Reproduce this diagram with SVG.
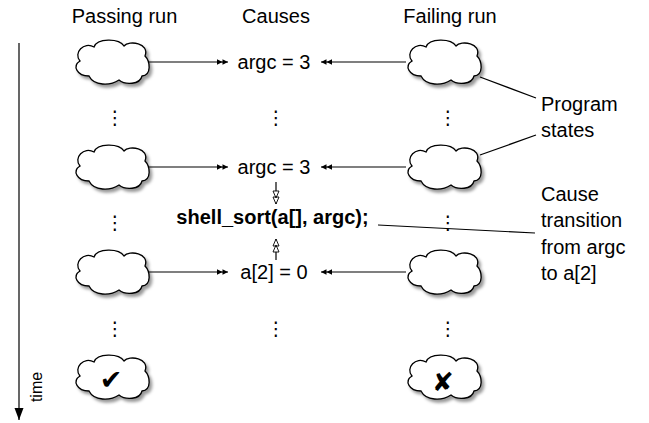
<svg xmlns="http://www.w3.org/2000/svg" width="649" height="423" viewBox="0 0 649 423">
<style>
  .t { font-family: "Liberation Sans", Arial, sans-serif; font-size: 20px; fill: #000; }
  .b { font-weight: bold; }
  .m { text-anchor: middle; }
  .dots { font-family: "DejaVu Sans", sans-serif; font-size: 19px; text-anchor: middle; fill: #000; }
  .ln { stroke: #000; stroke-width: 1.2; fill: none; }
  .cl { fill: #fff; stroke: #000; stroke-width: 1.3; }
  .sym { font-family: "DejaVu Sans", sans-serif; text-anchor: middle; fill: #000; }
</style>
<defs>
  <filter id="sh" x="-20%" y="-20%" width="150%" height="160%">
    <feDropShadow dx="2.5" dy="3" stdDeviation="1.6" flood-color="#000" flood-opacity="0.4"/>
  </filter>
  <path id="cloud" d="M-31,-2 C-38,-10 -27,-22 -17,-16 C-14,-25 8,-25 13,-17 C18,-23 39,-20 34,-7 C39,-2 41,12 31,13 C29,22 14,22 8,17 C-1,23 -17,23 -22,13 C-34,13 -39,3 -31,-2 Z"/>
  <marker id="dbl" markerUnits="userSpaceOnUse" markerWidth="11" markerHeight="7" viewBox="0 0 11 7" refX="11" refY="3.5" orient="auto">
    <path d="M0,0.8 L5.5,3.5 L0,6.2 Z M5.5,0.8 L11,3.5 L5.5,6.2 Z" fill="#000"/>
  </marker>
  <marker id="dblo" markerUnits="userSpaceOnUse" markerWidth="16" markerHeight="9" viewBox="-1 -1 16 9" refX="13" refY="3.5" orient="auto">
    <path d="M0,0.5 L7,3.5 L0,6.5 Z M6,0.5 L13,3.5 L6,6.5 Z" fill="#fff" stroke="#000" stroke-width="0.9"/>
  </marker>
  <marker id="tri" markerUnits="userSpaceOnUse" markerWidth="12" markerHeight="16" viewBox="0 0 16 12" refX="16" refY="6" orient="auto">
    <path d="M0,0 L16,6 L0,12 Z" fill="#000"/>
  </marker>
</defs>

<g id="headers">
  <text class="t m" x="124.5" y="23">Passing run</text>
  <text class="t m" x="276" y="23">Causes</text>
  <text class="t m" x="450" y="23">Failing run</text>
</g>

<g id="time-axis">
  <line class="ln" x1="19" y1="43" x2="19" y2="420" marker-end="url(#tri)"/>
  <text class="t m" style="font-size:16px" transform="translate(42,387) rotate(-90)">time</text>
</g>

<g id="pass-1"><use href="#cloud" class="cl" filter="url(#sh)" transform="translate(111,63)"/></g>
<g id="pass-2"><use href="#cloud" class="cl" filter="url(#sh)" transform="translate(111,168)"/></g>
<g id="pass-3"><use href="#cloud" class="cl" filter="url(#sh)" transform="translate(111,273)"/></g>
<g id="pass-4"><use href="#cloud" class="cl" filter="url(#sh)" transform="translate(111,378)"/><text class="sym" style="font-size:27px" x="111" y="389">✔</text></g>

<g id="fail-1"><use href="#cloud" class="cl" filter="url(#sh)" transform="translate(443,63)"/></g>
<g id="fail-2"><use href="#cloud" class="cl" filter="url(#sh)" transform="translate(443,168)"/></g>
<g id="fail-3"><use href="#cloud" class="cl" filter="url(#sh)" transform="translate(443,273)"/></g>
<g id="fail-4"><use href="#cloud" class="cl" filter="url(#sh)" transform="translate(443,378)"/><text class="sym" style="font-size:26px" x="443" y="391">✘</text></g>

<g id="cause-1"><text class="t m" x="274" y="69">argc = 3</text></g>
<g id="cause-2"><text class="t m" x="274" y="174">argc = 3</text></g>
<g id="cause-transition"><text class="t b m" x="272.5" y="224">shell_sort(a[], argc);</text></g>
<g id="cause-3"><text class="t m" x="274" y="279">a[2] = 0</text></g>

<g id="label-states">
  <text class="t" x="541" y="111">Program</text>
  <text class="t" x="541" y="137">states</text>
</g>
<g id="label-transition">
  <text class="t" x="541" y="201">Cause</text>
  <text class="t" x="541" y="227">transition</text>
  <text class="t" x="541" y="254">from argc</text>
  <text class="t" x="541" y="280">to a[2]</text>
</g>

<g id="ellipses">
  <text class="dots" x="115" y="124">⋮</text>
  <text class="dots" x="276" y="124">⋮</text>
  <text class="dots" x="448" y="124">⋮</text>
  <text class="dots" x="115" y="229">⋮</text>
  <text class="dots" x="448" y="229">⋮</text>
  <text class="dots" x="115" y="335">⋮</text>
  <text class="dots" x="276" y="335">⋮</text>
  <text class="dots" x="448" y="335">⋮</text>
</g>

<g id="connectors">
  <line class="ln" x1="149" y1="62" x2="228" y2="62" marker-end="url(#dbl)"/>
  <line class="ln" x1="406" y1="62" x2="321" y2="62" marker-end="url(#dbl)"/>
  <line class="ln" x1="149" y1="167" x2="228" y2="167" marker-end="url(#dbl)"/>
  <line class="ln" x1="406" y1="167" x2="321" y2="167" marker-end="url(#dbl)"/>
  <line class="ln" x1="149" y1="272" x2="228" y2="272" marker-end="url(#dbl)"/>
  <line class="ln" x1="406" y1="272" x2="321" y2="272" marker-end="url(#dbl)"/>
  <line class="ln" x1="276" y1="182" x2="276" y2="204" marker-end="url(#dblo)"/>
  <line class="ln" x1="276" y1="260" x2="276" y2="239" marker-end="url(#dblo)"/>
  <line class="ln" x1="480" y1="77" x2="536" y2="98"/>
  <line class="ln" x1="480" y1="155" x2="536" y2="135"/>
  <line class="ln" x1="378" y1="225" x2="535" y2="233"/>
</g>
</svg>
